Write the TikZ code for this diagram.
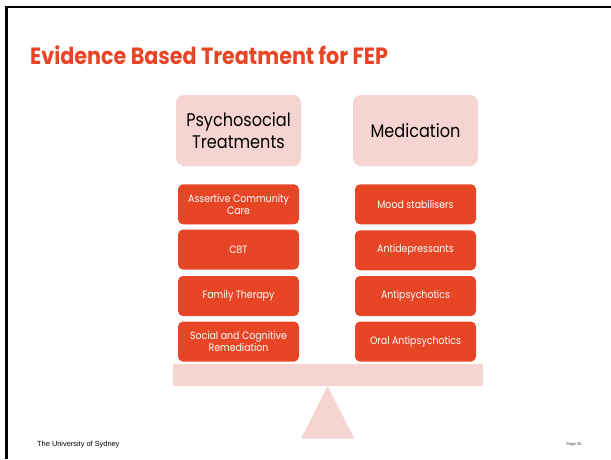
\documentclass[tikz,border=0pt]{standalone}
\usepackage{fontspec}
\setmainfont{Poppins}
\newfontfamily\geo{Poppins}[FakeStretch=0.88]
\newfontfamily\geob{Poppins Bold}[FakeStretch=0.88]
\newfontfamily\arial{Liberation Sans}
\definecolor{ochre}{HTML}{E64626}
\definecolor{blush}{HTML}{F6D4D2}
\begin{document}
\begin{tikzpicture}[x=1pt,y=-1pt,
  headbox/.style={fill=blush, rounded corners=8pt, minimum width=125pt, minimum height=71pt,
     inner sep=0pt, align=center, font=\geo\fontsize{18.3}{21.7}\selectfont, text=black},
  itembox/.style={fill=ochre, rounded corners=5pt, minimum width=121pt, minimum height=40pt,
     inner sep=0pt, align=center, font=\geo\fontsize{10.7}{11.8}\selectfont, text=white},
  frameline/.style={line width=2.5pt, black}]
\useasboundingbox (0,0) rectangle (611,459);
\fill[white] (0,0) rectangle (611,459);
\coordinate (tl) at (6.5,7);
\coordinate (tr) at (611,7);
\coordinate (bl) at (6.5,459);
\draw[frameline] (bl) -- (tl) -- (tr);
\node[anchor=base west, inner sep=0pt, text=ochre, font=\geob\fontsize{23.5}{26}\selectfont] (title) at (30,64.3) {Evidence Based Treatment for FEP};
\node[headbox] (psy) at (238.5,130.5) {Psychosocial\\Treatments};
\node[headbox] (med) at (415.5,130.5) {Medication};
\node[itembox] (l1) at (238.5,204.3) {Assertive Community\\Care};
\node[itembox] (l2) at (238.5,249.5) {CBT};
\node[itembox] (l3) at (238.5,296) {Family Therapy};
\node[itembox] (l4) at (238.5,341.6) {Social and Cognitive\\Remediation};
\node[itembox] (r1) at (415.5,204.3) {Mood stabilisers};
\node[itembox] (r2) at (415.5,250.3) {Antidepressants};
\node[itembox] (r3) at (415.5,296) {Antipsychotics};
\node[itembox] (r4) at (415.5,341.6) {Oral Antipsychotics};
\fill[blush] (173,364) rectangle (483,386);
\fill[blush] (327.5,386) -- (354.3,438.7) -- (301,438.7) -- cycle;
\node[anchor=base west, inner sep=0pt, font=\arial\fontsize{7.4}{9}\selectfont] (uni) at (37,446) {The University of Sydney};
\node[anchor=base, inner sep=0pt, font=\arial\fontsize{4}{5}\selectfont, text=black!80] (page) at (574,445.5) {Page 25};
\end{tikzpicture}
\end{document}
